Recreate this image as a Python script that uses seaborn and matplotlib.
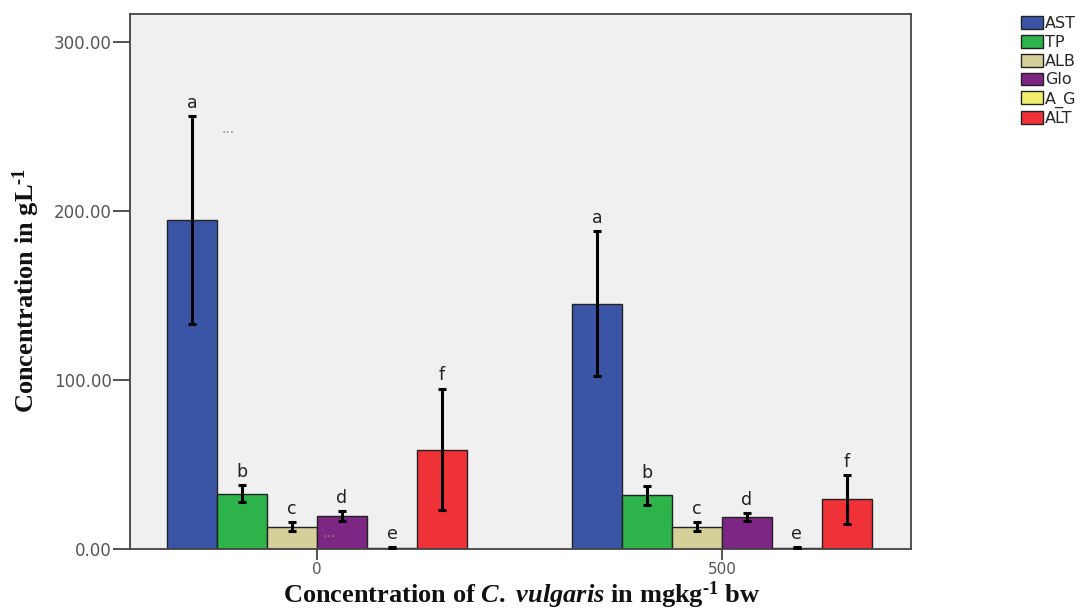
import matplotlib
matplotlib.use("Agg")
import matplotlib.pyplot as plt
import seaborn as sns
import pandas as pd
from matplotlib.patches import Patch

# ---- data ----
groups = ["0", "500"]
params = ["AST", "TP", "ALB", "Glo", "A_G", "ALT"]
means_0 = [194.3, 32.7, 13.3, 19.4, 0.8, 58.8]
means_500 = [145.1, 31.7, 13.2, 18.8, 0.7, 29.3]
err_0 = [61.5, 5.0, 2.5, 3.0, 0.2, 36.0]
err_500 = [43.0, 5.4, 2.8, 2.5, 0.2, 14.4]
letters = ["a", "b", "c", "d", "e", "f"]
yticks = [0, 100, 200, 300]

colors = ["#3B55A6", "#2EB34B", "#D5CF9A", "#7D2683", "#F4EE6E", "#EE3237"]

rows = []
for g, m, e in [(groups[0], means_0, err_0), (groups[1], means_500, err_500)]:
    for p, v, s in zip(params, m, e):
        rows.append({"dose": g, "param": p, "value": v, "err": s})
df = pd.DataFrame(rows)

sns.set_theme(style="white")
plt.rcParams["font.family"] = ["DejaVu Sans"]
plt.rcParams["mathtext.fontset"] = "custom"
plt.rcParams["mathtext.rm"] = "Liberation Serif:bold"
plt.rcParams["mathtext.bf"] = "Liberation Serif:bold"
plt.rcParams["mathtext.it"] = "Liberation Serif:bold:italic"

fig = plt.figure(figsize=(10.91, 6.09), dpi=100)
ax = fig.add_axes([130 / 1091, 60 / 609, 781 / 1091, 535 / 609])
ax.set_facecolor("#F0F0F0")

sns.barplot(data=df, x="dose", y="value", hue="param", order=groups,
            hue_order=params, palette=colors, errorbar=None, width=0.74,
            edgecolor="#222222", linewidth=1.0, legend=False, ax=ax, saturation=1)

bar_containers = list(ax.containers)

# error bars and letters from bar positions
for i, cont in enumerate(bar_containers):
    for j, bar in enumerate(cont):
        sub = df[(df["param"] == params[i]) & (df["dose"] == groups[j])].iloc[0]
        cx = bar.get_x() + bar.get_width() / 2
        top = bar.get_height()
        ax.errorbar(cx, top, yerr=sub["err"], color="black", lw=2.2,
                    capsize=3, capthick=2.2, zorder=5)
        ax.annotate(letters[i], (cx, top + sub["err"]), xytext=(0, 3),
                    textcoords="offset points", ha="center", va="bottom",
                    fontsize=12.5, color="#222222")

# stray dotted marks from the original
ax.text(-0.22, 246, "···", fontsize=10, color="#888888", ha="center", va="center")
ax.text(0.03, 7, "···", fontsize=10, color="#888888", ha="center", va="center")

ax.set_ylim(0, 316.3)
ax.set_xlim(-0.462, 1.467)
ax.set_yticks(yticks)
ax.set_yticklabels([f"{t:.2f}" for t in yticks])
ax.tick_params(axis="y", direction="out", length=12, width=1.3, color="#444444",
               labelsize=12, labelcolor="#555555", pad=1, left=True)
ax.tick_params(axis="x", direction="out", length=8, width=1.3, color="#444444",
               labelsize=11, labelcolor="#555555", pad=1, bottom=True)
ax.set_xlabel("")
ax.set_ylabel("")
for s in ax.spines.values():
    s.set_color("#444444")
    s.set_linewidth(1.3)

fig.text(522 / 1091, 1 - 603 / 609,
         r"Concentration of $\mathit{C.\ vulgaris}$ in mgkg$^{\text{-}1}$ bw",
         ha="center", va="baseline", fontsize=19, fontweight="bold",
         family="Liberation Serif", color="#111111")
fig.text(26 / 1091, 1 - 290 / 609, r"Concentration in gL$^{\text{-}1}$",
         ha="center", va="center", rotation=90, fontsize=19, fontweight="bold",
         family="Liberation Serif", color="#111111")

handles = [Patch(facecolor=c, edgecolor="#222222", linewidth=1.0) for c in colors]
fig.legend(handles, params, loc="upper left", bbox_to_anchor=(1021 / 1091, 1 - 16 / 609),
           frameon=False, fontsize=11.5, handlelength=1.35, handleheight=0.85,
           handletextpad=0.15, labelspacing=0.24, borderaxespad=0, borderpad=0)

fig.savefig("out.png", dpi=100, facecolor="white")
